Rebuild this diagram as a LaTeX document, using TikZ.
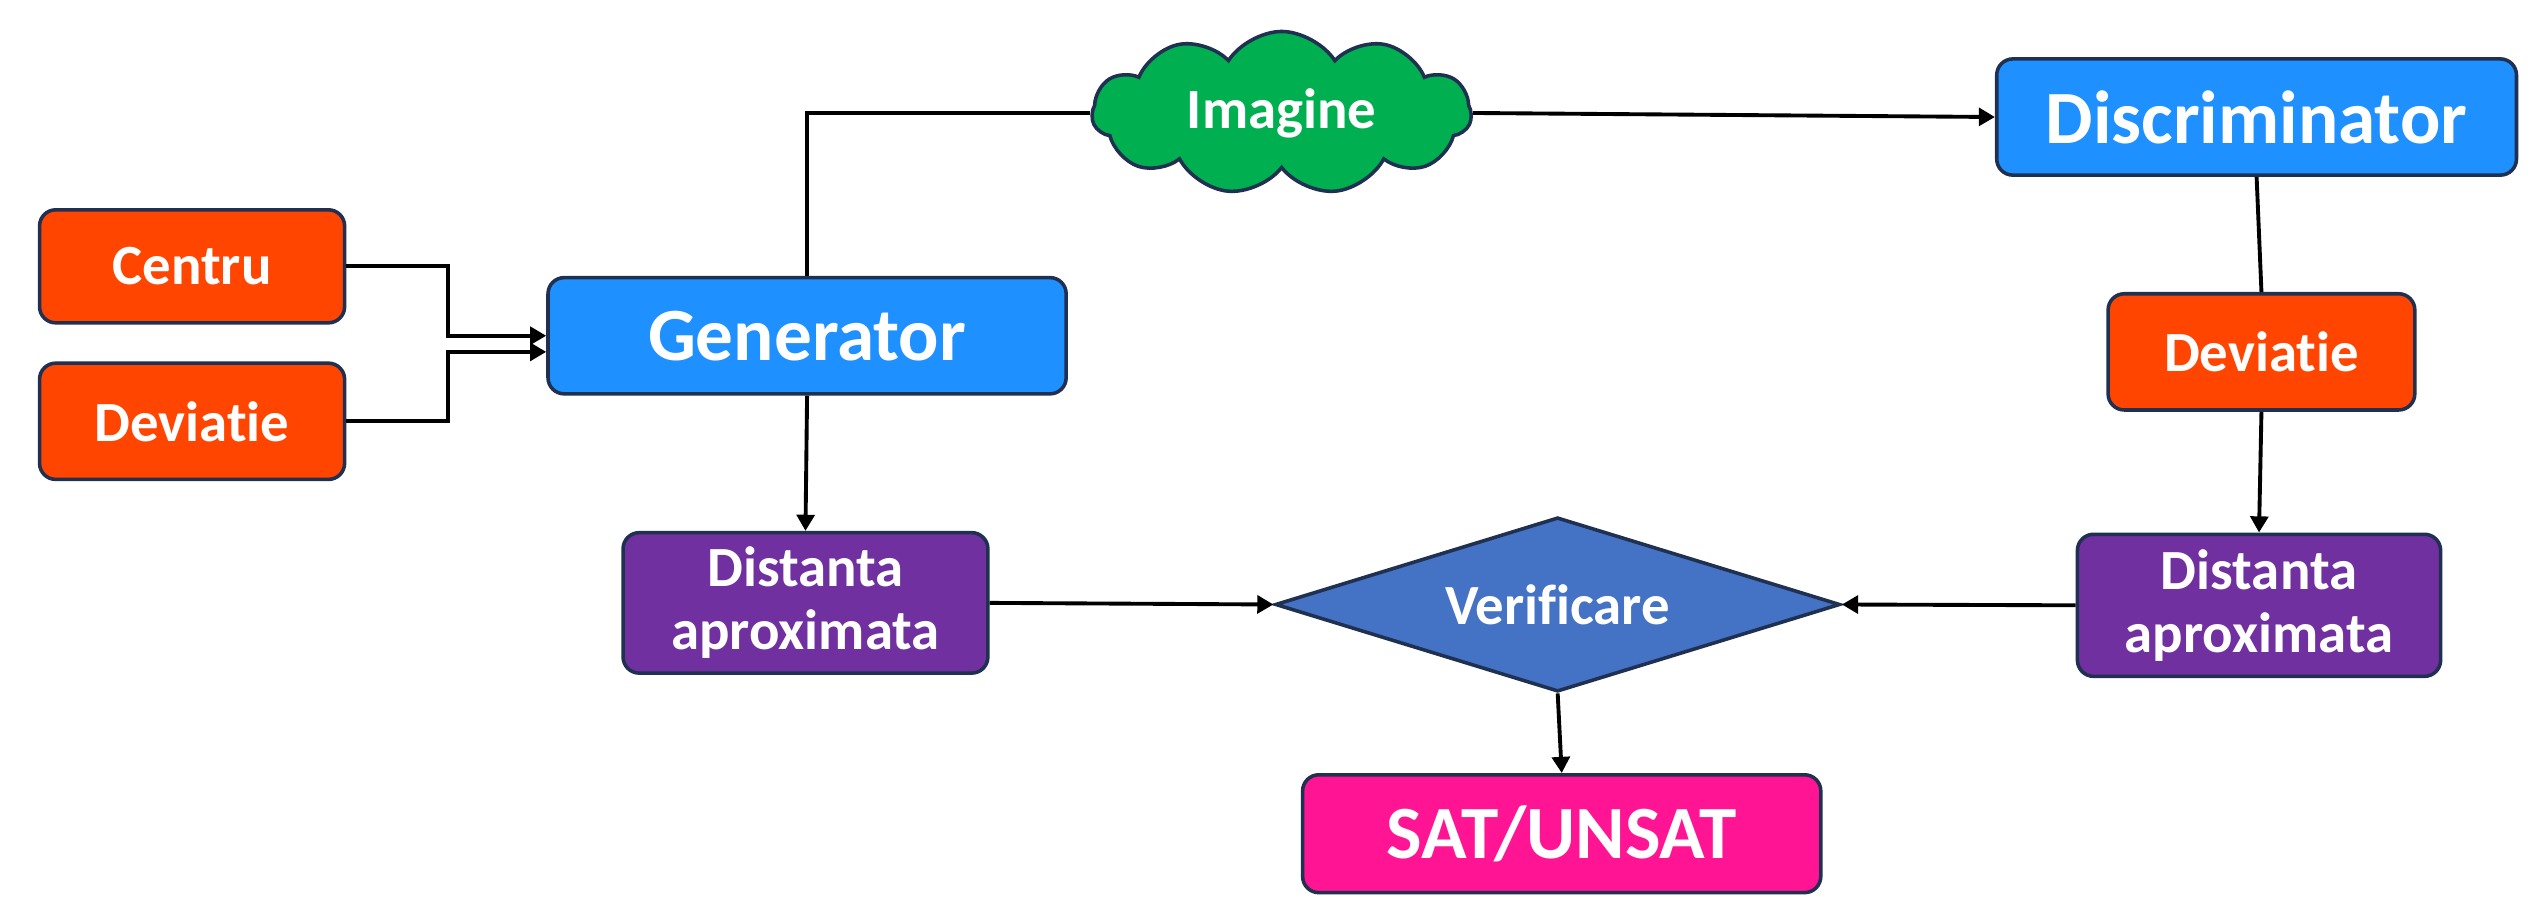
\documentclass[tikz,border=0pt]{standalone}
\usepackage{fontspec}
\setmainfont{Carlito}[Ligatures=NoCommon]
\usetikzlibrary{shapes.geometric,shapes.symbols,arrows.meta,calc}
\definecolor{bord}{HTML}{1F3050}
\definecolor{orng}{HTML}{FF4500}
\definecolor{blu}{HTML}{1E90FF}
\definecolor{grn}{HTML}{00B050}
\definecolor{purp}{HTML}{7030A0}
\definecolor{dia}{HTML}{4472C4}
\definecolor{pnk}{HTML}{FF1493}
\tikzset{
  box/.style={draw=bord, line width=1.1pt, rounded corners=5pt, text=white, align=center, inner sep=0pt},
  smalltxt/.style={font=\fontsize{17.6}{19.5}\selectfont\bfseries},
  bigtxt/.style={font=\fontsize{23.3}{25}\selectfont\bfseries},
  conn/.style={line width=1.2pt, black},
  arr/.style={conn, -{Triangle[length=5pt,width=5.5pt]}},
}
\begin{document}
\begin{tikzpicture}[x=0.5pt,y=-0.5pt]
\useasboundingbox (0,0) rectangle (1568,560);
\node[box, smalltxt, fill=orng, minimum width=94.5pt, minimum height=35pt] (centru) at (119,165) {Centru};
\node[box, smalltxt, fill=orng, minimum width=94.5pt, minimum height=36pt] (devL) at (119,261) {Deviatie};
\node[box, bigtxt, fill=blu, minimum width=160.5pt, minimum height=36pt] (gen) at (500,208) {Generator};
\node[cloud, cloud puffs=11, cloud puff arc=115, cloud ignores aspect, draw=bord, line width=1.1pt, fill=grn, text=white, smalltxt, minimum width=117.5pt, minimum height=50.5pt, inner sep=0pt] (cloud) at (794,70) {Imagine};
\node[box, bigtxt, fill=blu, minimum width=161pt, minimum height=36pt] (disc) at (1398,72.5) {Discriminator};
\node[box, smalltxt, fill=orng, minimum width=95pt, minimum height=36pt] (devR) at (1401,218) {Deviatie};
\node[box, smalltxt, fill=purp, minimum width=112.5pt, minimum height=44pt] (distR) at (1399.5,375) {Distanta\\aproximata};
\node[box, smalltxt, fill=purp, minimum width=113pt, minimum height=43.5pt] (distL) at (499,373.5) {Distanta\\aproximata};
\node[diamond, aspect=3.24, draw=bord, line width=1.1pt, fill=dia, text=white, smalltxt, minimum width=175pt, minimum height=54pt, inner sep=1pt] (verif) at (965,374.5) {Verificare};
\node[box, bigtxt, fill=pnk, minimum width=160.5pt, minimum height=36.5pt] (sat) at (967.5,516.5) {SAT/UNSAT};

\draw[arr] (centru.east) -- ++(63,0) |- (gen.west);
\draw[arr] (devL.east) -- ++(63,0) |- ([yshift=-5pt]gen.west);
\draw[conn] (gen.north) |- (cloud.west);
\draw[arr] (cloud.east) -- (disc.west);
\draw[conn] (disc.south) -- (devR.north);
\draw[arr] (devR.south) -- (distR.north);
\draw[arr] (distR.west) -- (verif.east);
\draw[arr] (distL.east) -- (verif.west);
\draw[arr] (gen.south) -- (distL.north);
\draw[arr] (verif.south) -- (sat.north);
\end{tikzpicture}
\end{document}
